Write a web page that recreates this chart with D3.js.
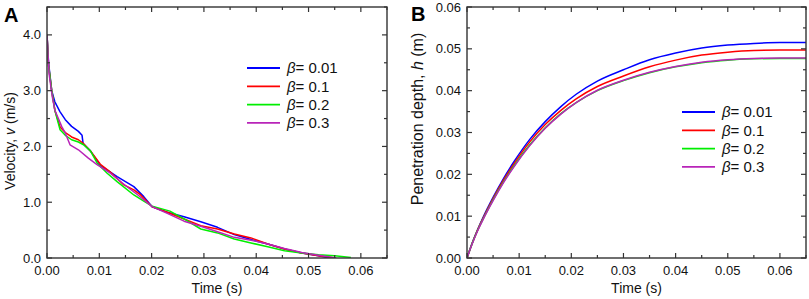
<!DOCTYPE html>
<html>
<head>
<meta charset="utf-8">
<script src="https://cdn.jsdelivr.net/npm/d3@7"></script>
<style>
	body { margin: 0; background: #fff; }
	svg { font-family: Arial, 'Liberation Sans', sans-serif; }
	.tick-label { font-size: 13px; fill: #111; }
	.axis-label { font-size: 14px; fill: #111; }
	.panel-label { font-size: 20px; font-weight: bold; fill: #000; }
	.legend-text { font-size: 15px; fill: #111; }
</style>
</head>
<body>
<svg width="809" height="299"></svg>
<script>
const seriesNames = ['0.01', '0.1', '0.2', '0.3'];
const seriesColors = ['#0000ff', '#ff0000', '#00ee00', '#b824b8'];

// Panel A: velocity (m/s) vs time (s)
const velocityB001 = [[0, 4.0], [0.0003, 3.5], [0.0009, 3.0], [0.0015, 2.8], [0.0025, 2.62], [0.0035, 2.48],
	[0.0047, 2.36], [0.006, 2.27], [0.0067, 2.2], [0.0069, 2.05], [0.0083, 1.92], [0.0102, 1.66],
	[0.0134, 1.46], [0.0166, 1.28], [0.0185, 1.10], [0.0201, 0.92], [0.023, 0.82], [0.0262, 0.74],
	[0.0294, 0.65], [0.0326, 0.55], [0.0358, 0.42], [0.039, 0.33], [0.0422, 0.25], [0.0454, 0.16],
	[0.0487, 0.09], [0.0519, 0.04], [0.054, 0.0]];
const velocityB01 = [[0, 4.0], [0.0003, 3.45], [0.0009, 3.0], [0.0015, 2.65], [0.0025, 2.35], [0.0035, 2.25],
	[0.0047, 2.17], [0.006, 2.12], [0.007, 2.05], [0.0083, 1.92], [0.0102, 1.68], [0.012, 1.55],
	[0.0147, 1.31], [0.0166, 1.22], [0.0179, 1.13], [0.0201, 0.92], [0.023, 0.82], [0.0262, 0.70],
	[0.0294, 0.58], [0.0326, 0.52], [0.0358, 0.43], [0.039, 0.36], [0.0422, 0.25], [0.0454, 0.16],
	[0.0487, 0.09], [0.0519, 0.04], [0.055, 0.0]];
const velocityB02 = [[0, 4.0], [0.0003, 3.45], [0.0009, 3.0], [0.0015, 2.65], [0.0025, 2.3], [0.0035, 2.2],
	[0.0047, 2.12], [0.006, 2.08], [0.007, 2.03], [0.0083, 1.92], [0.0096, 1.70], [0.0115, 1.52],
	[0.0134, 1.37], [0.0166, 1.13], [0.0185, 1.02], [0.0201, 0.93], [0.0235, 0.84], [0.0262, 0.70],
	[0.0294, 0.52], [0.0326, 0.45], [0.0358, 0.34], [0.039, 0.27], [0.0422, 0.20], [0.0454, 0.13],
	[0.0487, 0.09], [0.0519, 0.06], [0.055, 0.04], [0.0581, 0.01]];
const velocityB03 = [[0, 4.0], [0.0004, 3.3], [0.001, 2.9], [0.0015, 2.65], [0.0028, 2.36], [0.0035, 2.24],
	[0.0044, 2.03], [0.006, 1.94], [0.0079, 1.79], [0.0095, 1.68], [0.0121, 1.52], [0.015, 1.30],
	[0.0175, 1.12], [0.0201, 0.92], [0.023, 0.80], [0.0262, 0.66], [0.0294, 0.57], [0.0326, 0.47],
	[0.0358, 0.37], [0.039, 0.32], [0.0422, 0.25], [0.0454, 0.17], [0.0487, 0.10], [0.0519, 0.05],
	[0.0553, 0.0]];

// Panel B: penetration depth (m) vs time (s)
const depthTime = [0, 0.001, 0.002, 0.003, 0.005, 0.007, 0.009, 0.012, 0.015, 0.018, 0.021,
	0.025, 0.03, 0.035, 0.04, 0.045, 0.05, 0.055, 0.06, 0.065];
const depthB001 = [0, 0.0036, 0.0067, 0.0095, 0.0145, 0.0190, 0.0230, 0.0283, 0.0326, 0.0362, 0.0392,
	0.0423, 0.0450, 0.0474, 0.0490, 0.0502, 0.0509, 0.0513, 0.0515, 0.0515];
const depthB01 = [0, 0.0035, 0.0066, 0.0093, 0.0142, 0.0186, 0.0225, 0.0277, 0.0319, 0.0353, 0.0381,
	0.0410, 0.0435, 0.0457, 0.0473, 0.0485, 0.0492, 0.0496, 0.0497, 0.0497];
const depthB02 = [0, 0.0035, 0.0065, 0.0091, 0.0139, 0.0182, 0.0220, 0.0270, 0.0311, 0.0345, 0.0372,
	0.0400, 0.0424, 0.0443, 0.0457, 0.0467, 0.0473, 0.0476, 0.0477, 0.0477];
const depthB03 = [0, 0.0034, 0.0064, 0.0090, 0.0137, 0.0180, 0.0218, 0.0268, 0.0310, 0.0344, 0.0372,
	0.0401, 0.0425, 0.0444, 0.0458, 0.0468, 0.0474, 0.0477, 0.0478, 0.0478];

const xTicks = [0, 0.01, 0.02, 0.03, 0.04, 0.05, 0.06];
const yTicksA = [0, 1, 2, 3, 4];
const yTicksB = [0, 0.01, 0.02, 0.03, 0.04, 0.05, 0.06];

const svg = d3.select('svg');

const drawPanel = opts => {
	const {left, right, top, bottom, xMax, yMax, yTicks, xMinor, yMinor, yFormat, series, curve} = opts;

	const xScale = d3.scaleLinear().domain([0, xMax]).range([left, right]);
	const yScale = d3.scaleLinear().domain([0, yMax]).range([bottom, top]);

	const g = svg.append('g');

	const line = d3.line()
		.x(d => xScale(d[0]))
		.y(d => yScale(d[1]))
		.curve(curve);

	const clipId = 'clip' + left;
	g.append('clipPath').attr('id', clipId)
		.append('rect')
			.attr('x', left).attr('y', top)
			.attr('width', right - left).attr('height', bottom - top);

	g.append('g').attr('clip-path', `url(#${clipId})`)
		.selectAll('path').data(series)
		.enter().append('path')
			.attr('d', d => line(d.values))
			.attr('fill', 'none')
			.attr('stroke', d => d.color)
			.attr('stroke-width', 1.5)
			.attr('stroke-linejoin', 'round');

	// axes: bottom/left with labels, top/right mirrored ticks, all inward
	const tickLen = 5, minorLen = 3;
	const xAll = d3.range(0, xMax + 1e-9, xMinor);
	const yAll = d3.range(0, yMax + 1e-9, yMinor);
	const isMajor = (v, list) => list.some(t => Math.abs(t - v) < 1e-9);

	const axisColor = '#333';
	g.selectAll('.xt').data(xAll).enter().append('line')
		.attr('x1', d => xScale(d)).attr('x2', d => xScale(d))
		.attr('y1', bottom).attr('y2', d => bottom - (isMajor(d, xTicks) ? tickLen : minorLen))
		.attr('stroke', axisColor).attr('stroke-width', 1.2);
	g.selectAll('.xtt').data(xAll).enter().append('line')
		.attr('x1', d => xScale(d)).attr('x2', d => xScale(d))
		.attr('y1', top).attr('y2', d => top + (isMajor(d, xTicks) ? tickLen : minorLen))
		.attr('stroke', axisColor).attr('stroke-width', 1.2);
	g.selectAll('.yt').data(yAll).enter().append('line')
		.attr('y1', d => yScale(d)).attr('y2', d => yScale(d))
		.attr('x1', left).attr('x2', d => left + (isMajor(d, yTicks) ? tickLen : minorLen))
		.attr('stroke', axisColor).attr('stroke-width', 1.2);
	g.selectAll('.ytr').data(yAll).enter().append('line')
		.attr('y1', d => yScale(d)).attr('y2', d => yScale(d))
		.attr('x1', right).attr('x2', d => right - (isMajor(d, yTicks) ? tickLen : minorLen))
		.attr('stroke', axisColor).attr('stroke-width', 1.2);

	g.append('rect')
		.attr('x', left).attr('y', top)
		.attr('width', right - left).attr('height', bottom - top)
		.attr('fill', 'none')
		.attr('stroke', axisColor)
		.attr('stroke-width', 1.4);

	g.selectAll('.xl').data(xTicks).enter().append('text')
		.attr('class', 'tick-label')
		.attr('x', d => xScale(d))
		.attr('y', bottom + 17)
		.attr('text-anchor', 'middle')
		.text(d => d3.format('.2f')(d));

	g.selectAll('.yl').data(yTicks).enter().append('text')
		.attr('class', 'tick-label')
		.attr('x', left - 6)
		.attr('y', d => yScale(d))
		.attr('dy', '0.35em')
		.attr('text-anchor', 'end')
		.text(d => yFormat(d));

	g.append('text')
		.attr('class', 'axis-label')
		.attr('x', (left + right) / 2)
		.attr('y', bottom + 35)
		.attr('text-anchor', 'middle')
		.text('Time (s)');

	return {g, xScale, yScale};
};

const legend = (x, y, series) => {
	const lg = svg.append('g').attr('transform', `translate(${x}, ${y})`);
	const rows = lg.selectAll('g').data(series)
		.enter().append('g')
			.attr('transform', (d, i) => `translate(0, ${i * 18.3})`);
	rows.append('line')
		.attr('x1', 0).attr('x2', 33)
		.attr('stroke', d => d.color)
		.attr('stroke-width', 1.8);
	const t = rows.append('text')
		.attr('class', 'legend-text')
		.attr('x', 40)
		.attr('dy', '0.36em');
	t.append('tspan').attr('font-style', 'italic').text('\u03B2');
	t.append('tspan').text(d => '= ' + d.name);
};

// Panel A
const seriesA = [velocityB001, velocityB01, velocityB02, velocityB03]
	.map((v, i) => ({name: seriesNames[i], color: seriesColors[i], values: v}));

const panelA = drawPanel({
	left: 47, right: 387, top: 7, bottom: 258,
	xMax: 0.065, yMax: 4.5, yTicks: yTicksA,
	xMinor: 0.005, yMinor: 0.5,
	yFormat: d3.format('.1f'),
	series: seriesA,
	curve: d3.curveLinear
});

const titleA = panelA.g.append('text')
	.attr('class', 'axis-label')
	.attr('transform', 'translate(15, 141) rotate(-90)')
	.attr('text-anchor', 'middle');
titleA.append('tspan').text('Velocity, ');
titleA.append('tspan').attr('font-style', 'italic').text('v');
titleA.append('tspan').text(' (m/s)');

svg.append('text').attr('class', 'panel-label').attr('x', 4).attr('y', 22).text('A');
legend(247, 68, seriesA);

// Panel B
const depthSeries = [depthB001, depthB01, depthB02, depthB03];
const seriesB = depthSeries
	.map((v, i) => ({name: seriesNames[i], color: seriesColors[i], values: depthTime.map((t, j) => [t, v[j]])}));

const panelB = drawPanel({
	left: 467, right: 806, top: 7, bottom: 258,
	xMax: 0.065, yMax: 0.06, yTicks: yTicksB,
	xMinor: 0.005, yMinor: 0.005,
	yFormat: d3.format('.2f'),
	series: seriesB,
	curve: d3.curveMonotoneX
});

const titleB = panelB.g.append('text')
	.attr('class', 'axis-label')
	.attr('font-size', '16px')
	.style('font-size', '16px')
	.attr('transform', 'translate(423, 119) rotate(-90)')
	.attr('text-anchor', 'middle');
titleB.append('tspan').text('Penetration depth, ');
titleB.append('tspan').attr('font-style', 'italic').text('h');
titleB.append('tspan').text(' (m)');

svg.append('text').attr('class', 'panel-label').attr('x', 411).attr('y', 21).text('B');
legend(682, 112, seriesB);
</script>
</body>
</html>
